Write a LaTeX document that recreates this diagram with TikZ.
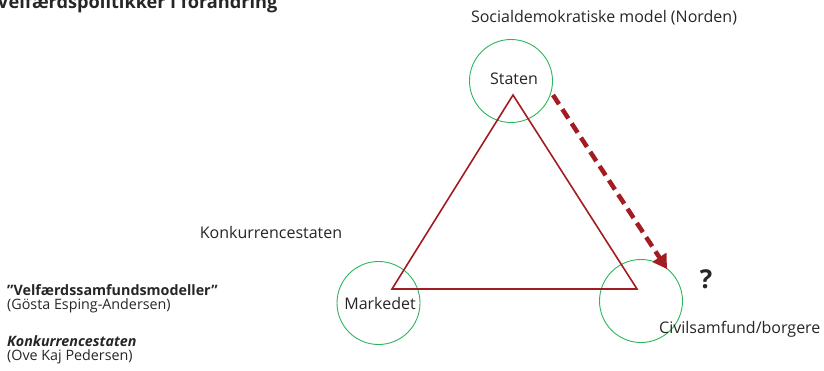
\documentclass[tikz,border=0pt]{standalone}
\usepackage{fontspec}
\setmainfont{Open Sans}
\usetikzlibrary{arrows.meta}
\definecolor{dred}{HTML}{A21C22}
\definecolor{cgreen}{HTML}{2DB55D}
\definecolor{txt}{HTML}{262626}
\tikzset{
  x=1pt,y=-1pt,
  ring/.style={circle,draw=cgreen,line width=0.9pt,minimum size=83pt,inner sep=0pt},
  lbl/.style={text=txt,inner sep=0pt,font=\fontsize{16}{18}\selectfont},
  small/.style={text=txt,inner sep=0pt,anchor=west,font=\fontsize{14.3}{16}\selectfont},
}
\begin{document}
\begin{tikzpicture}
\useasboundingbox (0,0) rectangle (824,371);
\clip (0,0) rectangle (824,371);
% title (clipped at the top)
\node[text=txt,inner sep=0pt,anchor=base west,font=\bfseries\fontsize{18.2}{20}\selectfont] (title) at (-3,9) {Velfærdspolitikker i forandring};
% circles
\node[ring] (cs) at (511,81) {};
\node[ring] (cm) at (378.5,303) {};
\node[ring] (cc) at (641,301) {};
% triangle
\coordinate (ta) at (513,95);
\coordinate (tl) at (392,289);
\coordinate (tr) at (637,289);
\draw[dred,line width=1.6pt,line join=miter] (ta) -- (tl) -- (tr) -- cycle;
% dashed arrow
\coordinate (a1) at (553,95);
\coordinate (a2) at (667,269);
\draw[dred,line width=4.5pt,dash pattern=on 11pt off 6pt,-{Triangle[length=14pt,width=16pt]}] (a1) -- (a2);
% labels
\node[lbl] (lstaten) at (514,79) {Staten};
\node[lbl] (lmark) at (380,303) {Markedet};
\node[lbl,anchor=west] (lciv) at (659,329) {Civilsamfund/borgere};
\node[lbl] (lsoc) at (604,18) {Socialdemokratiske model (Norden)};
\node[lbl] (lkonk) at (271,233) {Konkurrencestaten};
\node[text=txt,inner sep=0pt,font=\bfseries\fontsize{26}{28}\selectfont] (q) at (706,279) {?};
% left notes
\node[small,font=\bfseries\fontsize{14.3}{16}\selectfont] (n1) at (7,290) {”Velfærdssamfundsmodeller”};
\node[small] (n2) at (7,306) {(Gösta Esping-Andersen)};
\node[small,font=\bfseries\itshape\fontsize{14.3}{16}\selectfont] (n3) at (7,341) {Konkurrencestaten};
\node[small] (n4) at (7,357) {(Ove Kaj Pedersen)};
\end{tikzpicture}
\end{document}
